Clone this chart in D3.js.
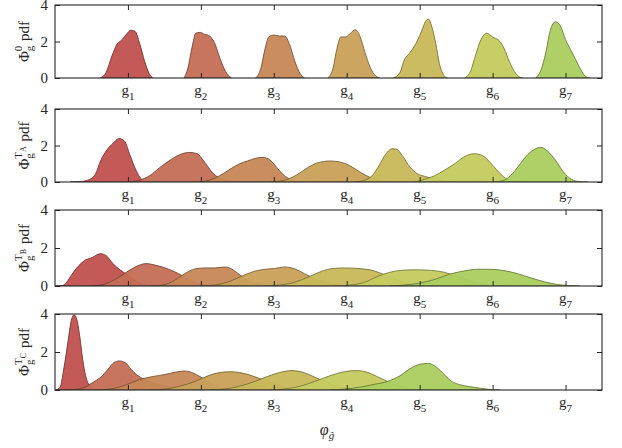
<!DOCTYPE html>
<html>
<head>
<meta charset="utf-8">
<script src="https://cdn.jsdelivr.net/npm/d3@7"></script>
<style>
  body { margin: 0; background: #fff; }
  text { font-family: "Liberation Serif", "DejaVu Serif", serif; fill: #262626; }
</style>
</head>
<body>
<div id="chart"></div>
<script>
// tick positions and labels along the phi axis
const xTicks = [1, 2, 3, 4, 5, 6, 7];
const xTickLabels = ["1", "2", "3", "4", "5", "6", "7"];
const yTicks = [0, 2, 4];
const panelTags = ["0", "A", "B", "C"];
const groupColors = ["#c1514f", "#c46e55", "#c68756", "#c9a158", "#c8b85a", "#c4cb5e", "#abcd5e"];

// density curves [phi, pdf] for g1..g7, one array per panel
const pdf0 = [
  [[0.62,0],[0.70,0.3],[0.78,1.2],[0.85,1.85],[0.92,2.1],[0.99,2.45],[1.04,2.62],[1.10,2.55],[1.16,1.9],[1.23,0.9],[1.29,0.25],[1.34,0]],
  [[1.77,0],[1.82,0.5],[1.88,1.7],[1.93,2.45],[1.99,2.5],[2.05,2.4],[2.12,2.3],[2.19,1.9],[2.26,1.1],[2.34,0.35],[2.42,0]],
  [[2.75,0],[2.82,0.5],[2.88,1.6],[2.93,2.25],[3.00,2.35],[3.08,2.3],[3.15,2.3],[3.22,1.8],[3.29,0.9],[3.36,0.25],[3.42,0]],
  [[3.74,0],[3.81,0.5],[3.86,1.5],[3.92,2.25],[3.99,2.25],[4.05,2.45],[4.12,2.65],[4.18,2.3],[4.25,1.4],[4.32,0.6],[4.40,0.1],[4.45,0]],
  [[4.64,0],[4.73,0.3],[4.79,1.0],[4.86,1.35],[4.95,1.9],[5.03,2.6],[5.08,3.1],[5.12,3.23],[5.16,2.9],[5.22,1.9],[5.27,0.8],[5.34,0.1],[5.38,0]],
  [[5.62,0],[5.70,0.4],[5.77,1.3],[5.84,2.1],[5.92,2.45],[6.00,2.25],[6.10,2.0],[6.16,1.6],[6.23,0.9],[6.30,0.35],[6.37,0.05],[6.41,0]],
  [[6.59,0],[6.66,0.4],[6.73,1.4],[6.79,2.6],[6.86,3.08],[6.93,2.85],[7.00,2.1],[7.07,1.55],[7.14,1.0],[7.21,0.45],[7.27,0.1],[7.33,0]]
];
const pdfTA = [
  [[0.21,0],[0.34,0.02],[0.45,0.1],[0.55,0.4],[0.63,1.2],[0.71,1.75],[0.79,2.1],[0.88,2.38],[0.95,2.25],[1.03,1.45],[1.11,0.65],[1.19,0.15],[1.30,0.03],[1.44,0]],
  [[1.03,0],[1.16,0.1],[1.30,0.35],[1.44,0.8],[1.58,1.2],[1.71,1.5],[1.85,1.62],[1.95,1.55],[2.04,1.15],[2.15,0.55],[2.26,0.2],[2.40,0.05],[2.53,0]],
  [[1.99,0],[2.12,0.1],[2.26,0.35],[2.40,0.7],[2.53,1.0],[2.64,1.15],[2.75,1.3],[2.85,1.35],[2.95,1.2],[3.05,0.75],[3.16,0.3],[3.29,0.08],[3.42,0]],
  [[2.95,0],[3.15,0.1],[3.32,0.4],[3.47,0.8],[3.60,1.05],[3.77,1.15],[3.90,1.1],[4.04,0.9],[4.18,0.55],[4.32,0.25],[4.45,0.08],[4.62,0]],
  [[4.11,0],[4.25,0.1],[4.36,0.4],[4.45,0.95],[4.53,1.5],[4.62,1.82],[4.68,1.8],[4.77,1.4],[4.86,0.85],[4.97,0.45],[5.08,0.3],[5.21,0.15],[5.34,0.05],[5.48,0]],
  [[4.93,0],[5.07,0.15],[5.21,0.35],[5.34,0.65],[5.48,1.0],[5.62,1.4],[5.75,1.55],[5.86,1.45],[5.96,1.1],[6.07,0.6],[6.18,0.2],[6.30,0.05],[6.44,0]],
  [[6.03,0],[6.16,0.1],[6.27,0.45],[6.38,1.0],[6.48,1.5],[6.58,1.8],[6.66,1.9],[6.75,1.7],[6.86,1.2],[6.97,0.55],[7.08,0.15],[7.19,0.02],[7.30,0]]
];
const pdfTB = [
  [[0.01,0],[0.10,0.02],[0.16,0.2],[0.23,0.6],[0.32,1.05],[0.41,1.35],[0.51,1.5],[0.62,1.7],[0.70,1.6],[0.79,1.2],[0.89,0.85],[0.99,0.6],[1.08,0.35],[1.19,0.1],[1.30,0.02],[1.44,0]],
  [[0.48,0],[0.62,0.05],[0.75,0.2],[0.89,0.5],[1.03,0.85],[1.16,1.1],[1.25,1.18],[1.37,1.1],[1.51,0.95],[1.64,0.75],[1.74,0.55],[1.85,0.3],[1.99,0.12],[2.12,0.03],[2.26,0]],
  [[1.30,0],[1.48,0.05],[1.64,0.3],[1.78,0.65],[1.92,0.9],[2.05,0.95],[2.19,0.95],[2.33,1.0],[2.42,0.9],[2.53,0.6],[2.64,0.3],[2.78,0.1],[2.95,0.02],[3.08,0]],
  [[1.99,0],[2.19,0.05],[2.40,0.25],[2.58,0.55],[2.74,0.78],[2.88,0.88],[3.01,0.92],[3.15,1.0],[3.29,0.9],[3.42,0.65],[3.56,0.4],[3.70,0.2],[3.88,0.05],[4.04,0]],
  [[2.88,0],[3.08,0.05],[3.29,0.2],[3.49,0.5],[3.66,0.78],[3.81,0.92],[3.97,0.95],[4.15,0.92],[4.32,0.85],[4.48,0.65],[4.63,0.4],[4.79,0.2],[4.97,0.07],[5.14,0]],
  [[3.84,0],[4.04,0.05],[4.25,0.2],[4.42,0.5],[4.59,0.72],[4.77,0.83],[4.97,0.85],[5.16,0.82],[5.34,0.72],[5.51,0.5],[5.66,0.3],[5.82,0.12],[5.99,0.03],[6.16,0]],
  [[4.59,0],[4.79,0.05],[5.00,0.15],[5.21,0.35],[5.41,0.62],[5.62,0.8],[5.79,0.88],[5.96,0.88],[6.14,0.82],[6.34,0.65],[6.53,0.42],[6.71,0.22],[6.89,0.08],[7.05,0.02],[7.19,0]]
];
const pdfTC = [
  [[0.01,0],[0.07,0.15],[0.12,1.1],[0.18,2.6],[0.22,3.6],[0.26,3.96],[0.30,3.7],[0.34,2.8],[0.38,1.6],[0.42,0.75],[0.48,0.2],[0.55,0.03],[0.62,0]],
  [[0.11,0],[0.27,0.03],[0.41,0.15],[0.52,0.4],[0.62,0.65],[0.73,1.1],[0.81,1.45],[0.88,1.53],[0.96,1.45],[1.04,1.1],[1.12,0.8],[1.23,0.55],[1.37,0.35],[1.51,0.2],[1.68,0.08],[1.92,0]],
  [[0.55,0],[0.75,0.05],[0.96,0.25],[1.16,0.55],[1.33,0.7],[1.51,0.82],[1.67,0.95],[1.78,1.0],[1.89,0.9],[1.99,0.7],[2.12,0.4],[2.26,0.15],[2.42,0.04],[2.60,0]],
  [[1.30,0],[1.51,0.05],[1.71,0.2],[1.92,0.45],[2.10,0.75],[2.26,0.92],[2.40,0.96],[2.53,0.92],[2.70,0.75],[2.84,0.55],[3.01,0.3],[3.19,0.1],[3.36,0.02],[3.49,0]],
  [[2.12,0],[2.33,0.05],[2.53,0.2],[2.74,0.45],[2.92,0.72],[3.08,0.92],[3.25,1.02],[3.38,0.95],[3.52,0.75],[3.66,0.5],[3.84,0.25],[4.01,0.08],[4.18,0.02],[4.34,0]],
  [[2.95,0],[3.15,0.05],[3.36,0.2],[3.56,0.45],[3.77,0.75],[3.95,0.95],[4.14,1.02],[4.29,0.92],[4.42,0.7],[4.56,0.45],[4.73,0.2],[4.89,0.06],[5.07,0]],
  [[3.77,0],[3.97,0.05],[4.18,0.15],[4.38,0.3],[4.56,0.45],[4.73,0.75],[4.86,1.1],[5.00,1.35],[5.12,1.4],[5.23,1.2],[5.34,0.8],[5.44,0.45],[5.55,0.28],[5.68,0.18],[5.82,0.1],[5.96,0.03],[6.10,0]]
];
const panelData = [pdf0, pdfTA, pdfTB, pdfTC];

const width = 622, height = 448;
const boxes = [
  { top: 5, bottom: 78 },
  { top: 109, bottom: 182 },
  { top: 210, bottom: 286 },
  { top: 314, bottom: 390 }
];

const svg = d3.select("#chart").append("svg")
  .attr("width", width)
  .attr("height", height);

const x = d3.scaleLinear().domain([0, 7.5]).range([55, 602]);

boxes.forEach((b, i) => {
  const y = d3.scaleLinear().domain([0, 4]).range([b.bottom, b.top]);
  const panel = svg.append("g");

  const clipId = "clip" + i;
  panel.append("clipPath").attr("id", clipId)
    .append("rect")
    .attr("x", x.range()[0]).attr("y", b.top)
    .attr("width", x.range()[1] - x.range()[0]).attr("height", b.bottom - b.top);

  const area = d3.area()
    .x(d => x(d[0]))
    .y0(y(0))
    .y1(d => y(d[1]))
    .curve(d3.curveMonotoneX);

  panel.append("g").attr("clip-path", `url(#${clipId})`)
    .selectAll("path")
    .data(panelData[i])
    .enter()
    .append("path")
    .attr("d", area)
    .attr("fill", (d, k) => groupColors[k])
    .attr("fill-opacity", 0.95)
    .attr("stroke", (d, k) => d3.color(groupColors[k]).darker(1.4))
    .attr("stroke-width", 0.9);

  // ticks pointing inward
  panel.append("g")
    .attr("transform", `translate(0,${b.bottom})`)
    .call(d3.axisBottom(x).tickValues(xTicks).tickSize(-5).tickFormat(""))
    .call(g => g.select(".domain").remove());
  panel.append("g")
    .attr("transform", `translate(0,${b.top})`)
    .call(d3.axisTop(x).tickValues(xTicks).tickSize(-5).tickFormat(""))
    .call(g => g.select(".domain").remove());
  panel.append("g")
    .attr("transform", `translate(${x.range()[0]},0)`)
    .call(d3.axisLeft(y).tickValues(yTicks).tickSize(-5).tickPadding(7).tickFormat(d3.format("d")))
    .call(g => g.select(".domain").remove())
    .call(g => g.selectAll("text").attr("font-size", 15).attr("font-family", "Liberation Serif").attr("fill", "#262626"));
  panel.append("g")
    .attr("transform", `translate(${x.range()[1]},0)`)
    .call(d3.axisRight(y).tickValues(yTicks).tickSize(-5).tickFormat(""))
    .call(g => g.select(".domain").remove());
  panel.selectAll(".tick line").attr("stroke", "#262626");

  panel.append("rect")
    .attr("x", x.range()[0]).attr("y", b.top)
    .attr("width", x.range()[1] - x.range()[0]).attr("height", b.bottom - b.top)
    .attr("fill", "none").attr("stroke", "#262626").attr("stroke-width", 1.1);

  // g_k labels under each tick
  const lbl = panel.selectAll(".glabel")
    .data(xTicks)
    .enter()
    .append("text")
    .attr("class", "glabel")
    .attr("x", d => x(d))
    .attr("y", b.bottom + 17)
    .attr("text-anchor", "middle")
    .attr("font-size", 15);
  lbl.append("tspan").text("g");
  lbl.append("tspan").attr("font-size", 11).attr("dy", 5).text((d, k) => xTickLabels[k]);

  // rotated y label
  const mid = (b.top + b.bottom) / 2;
  const yl = panel.append("text")
    .attr("transform", `translate(29,${mid}) rotate(-90)`)
    .attr("text-anchor", "middle")
    .attr("font-size", 15);
  yl.append("tspan").text("Φ");
  yl.append("tspan").attr("font-size", 11).attr("dy", 4).text("g");
  if (panelTags[i] === "0") {
    yl.append("tspan").attr("font-size", 11).attr("dx", -5.5).attr("dy", -11).text("0");
    yl.append("tspan").attr("dx", 1).attr("dy", 7).text(" pdf");
  } else {
    yl.append("tspan").attr("font-size", 11).attr("dx", -5.5).attr("dy", -11).text("T");
    yl.append("tspan").attr("font-size", 8).attr("dy", 4).text(panelTags[i]);
    yl.append("tspan").attr("dx", 1).attr("dy", 3).text(" pdf");
  }
});

// x axis title
const xt = svg.append("text")
  .attr("x", 327)
  .attr("y", 435)
  .attr("text-anchor", "middle")
  .attr("font-size", 16)
  .attr("font-style", "italic");
xt.append("tspan").text("φ");
xt.append("tspan").attr("font-size", 11).attr("dy", 4).text("ĝ");
</script>
</body>
</html>
